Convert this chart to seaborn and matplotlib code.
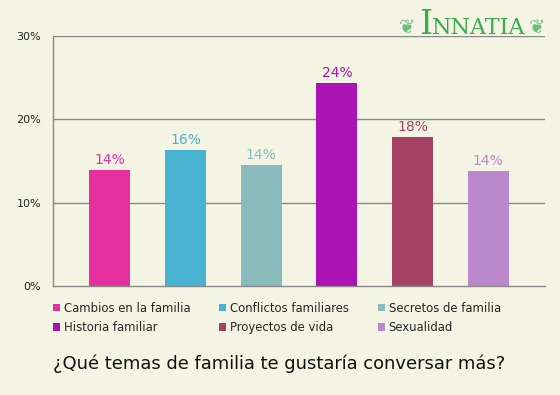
import matplotlib
matplotlib.use('Agg')
import matplotlib.pyplot as plt
import seaborn as sns
import pandas as pd

# datos
categorias = ['Cambios en la familia', 'Conflictos familiares', 'Secretos de familia',
              'Historia familiar', 'Proyectos de vida', 'Sexualidad']
porcentajes = [13.9, 16.3, 14.5, 24.4, 17.9, 13.8]
colores = ['#e5309e', '#47b3d1', '#89bbbc', '#ac13b5', '#a54263', '#bc88cc']
ticks_y = [0, 10, 20, 30]
titulo = '¿Qué temas de familia te gustaría conversar más?'

fondo = '#f3f4e3'
gris = '#888888'

df = pd.DataFrame({'tema': categorias, 'pct': porcentajes})

sns.set_style('white')
plt.rcParams['font.family'] = ['DejaVu Sans']

fig = plt.figure(figsize=(5.6, 3.95), dpi=100, facecolor=fondo)
ax = fig.add_axes([53 / 560, 1 - 286 / 395, 492 / 560, 250 / 395])
ax.set_facecolor(fondo)

sns.barplot(data=df, x='tema', y='pct', hue='tema', palette=colores,
            dodge=False, width=0.54, saturation=1, legend=True,
            edgecolor='none', linewidth=0, ax=ax)

# etiquetas sobre las barras
for cont, col in zip(ax.containers, colores):
    ax.bar_label(cont, labels=[f'{v:.0f}%' for v in cont.datavalues],
                 color=col, fontsize=10, padding=2)

ax.set_xlim(-0.75, 5.75)
ax.set_ylim(0, 30)
ax.set_yticks(ticks_y)
ax.set_yticklabels([f'{t}%' for t in ticks_y], fontsize=8, color='#222222')
ax.set_xticks([-0.75, 0.5, 1.5, 2.5, 3.5, 4.5])
ax.set_xticklabels([])
ax.set_xlabel('')
ax.set_ylabel('')
ax.tick_params(axis='both', direction='out', length=5, width=1, color=gris)

for y in ticks_y[1:]:
    ax.axhline(y, color=gris, lw=1, zorder=0)
for s in ['top', 'right']:
    ax.spines[s].set_visible(False)
for s in ['left', 'bottom']:
    ax.spines[s].set_color(gris)
    ax.spines[s].set_linewidth(1)

# leyenda (orden por filas)
handles, labels = ax.get_legend_handles_labels()
ax.get_legend().remove()
orden = [0, 3, 1, 4, 2, 5]
fig.legend([handles[i] for i in orden], [labels[i] for i in orden], ncol=3,
           loc='upper left', bbox_to_anchor=(48 / 560, 1 - 297 / 395),
           frameon=False, fontsize=8.4, handlelength=0.6, handleheight=0.6,
           handletextpad=0.35, columnspacing=2.45, labelspacing=0.55, borderaxespad=0)

fig.text(53 / 560, 1 - 364 / 395, titulo, fontsize=12.9, color='#111111', va='center')

# logo
verde = '#3daa4c'
fig.text(419 / 560, 1 - 25 / 395, 'I', fontsize=24, color=verde, family='DejaVu Serif',
         va='center', ha='left')
fig.text(432 / 560, 1 - 28 / 395, 'NNATIA', fontsize=16, color=verde, family='DejaVu Serif',
         va='center', ha='left')
fig.text(399 / 560, 1 - 28 / 395, '\u2766', fontsize=14, color='#6cc07a', va='center')
fig.text(529 / 560, 1 - 28 / 395, '\u2766', fontsize=14, color='#6cc07a', va='center')

fig.savefig('out.png', dpi=100, facecolor=fondo)
